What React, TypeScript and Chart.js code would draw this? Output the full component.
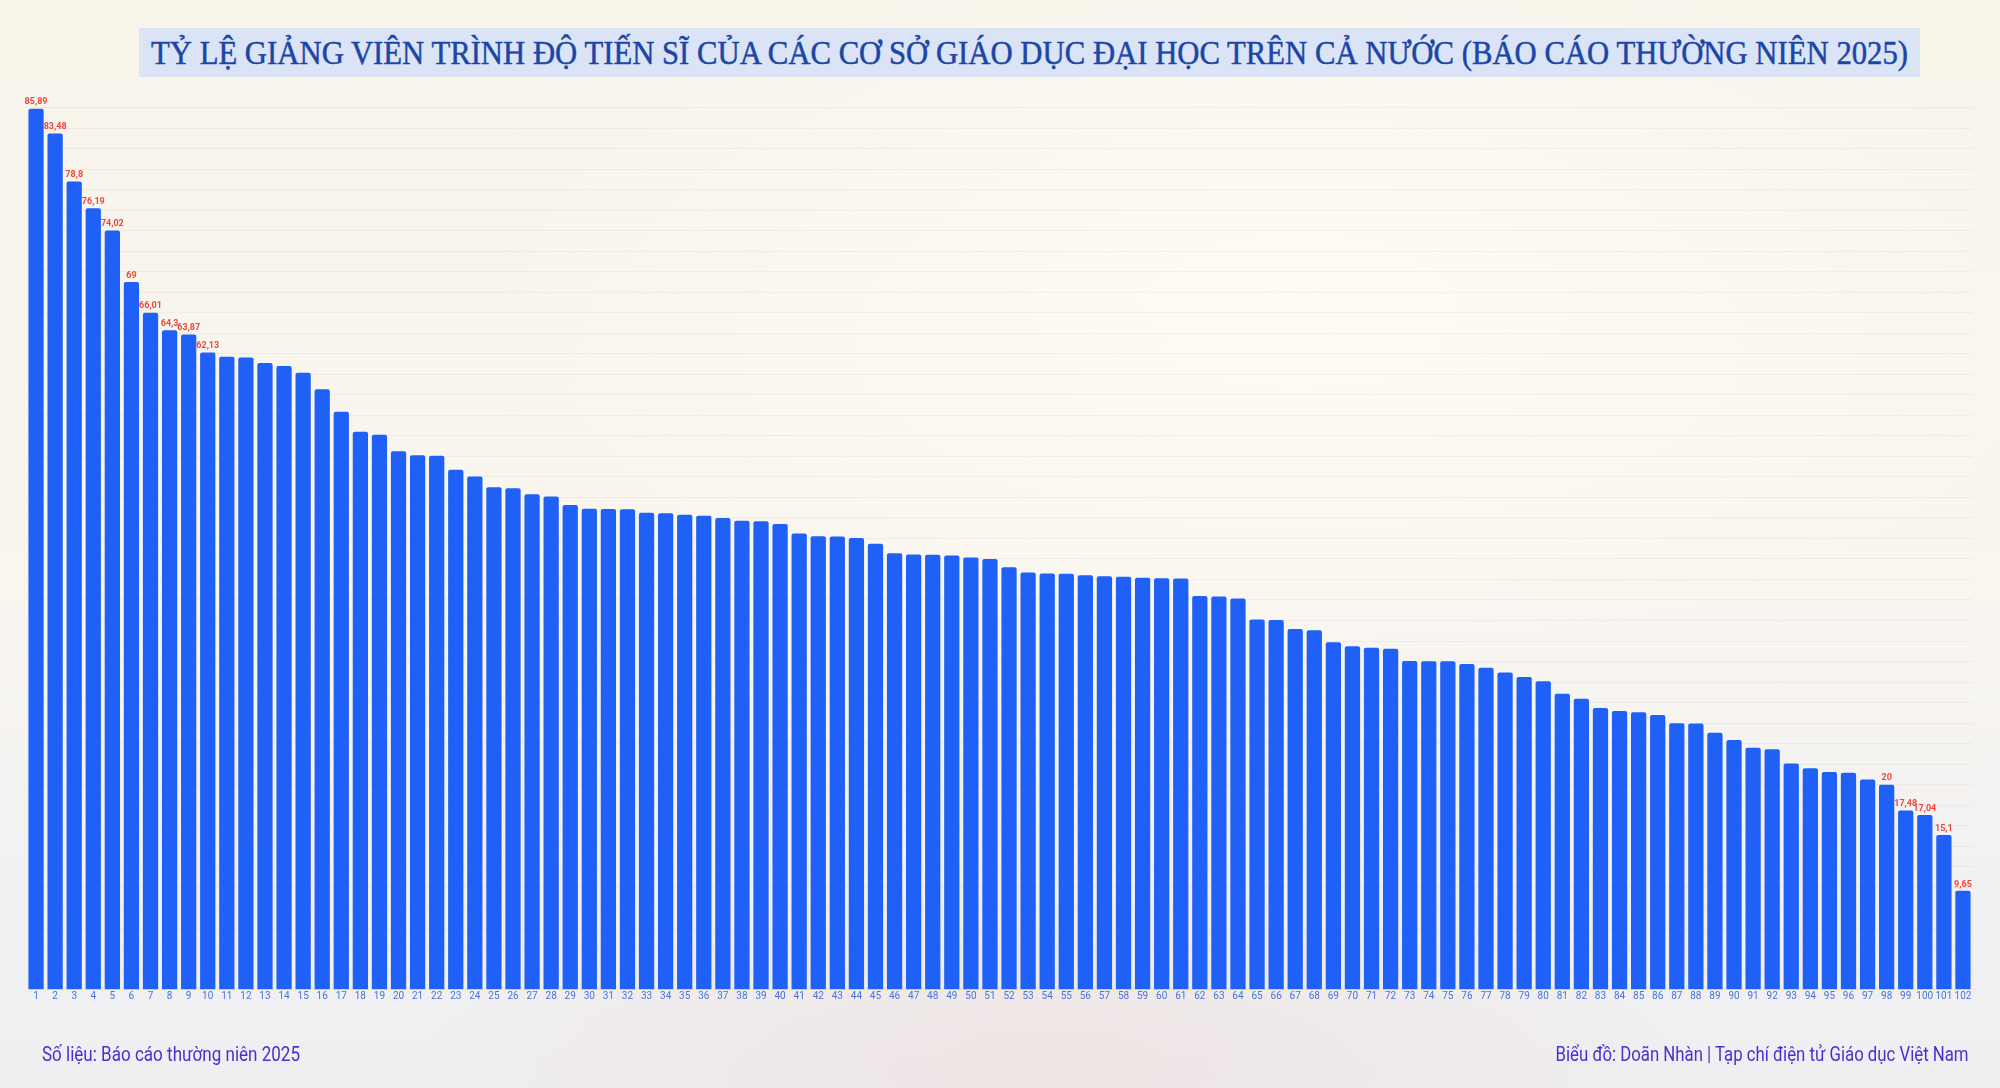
import React, { useEffect, useLayoutEffect, useRef } from "react";
import { Chart, registerables } from "chart.js";

Chart.register(...registerables);

// Tỷ lệ giảng viên tiến sĩ (%) của 102 cơ sở, xếp giảm dần
const categories = [
  "1", "2", "3", "4", "5", "6", "7", "8", "9", "10",
  "11", "12", "13", "14", "15", "16", "17", "18", "19", "20",
  "21", "22", "23", "24", "25", "26", "27", "28", "29", "30",
  "31", "32", "33", "34", "35", "36", "37", "38", "39", "40",
  "41", "42", "43", "44", "45", "46", "47", "48", "49", "50",
  "51", "52", "53", "54", "55", "56", "57", "58", "59", "60",
  "61", "62", "63", "64", "65", "66", "67", "68", "69", "70",
  "71", "72", "73", "74", "75", "76", "77", "78", "79", "80",
  "81", "82", "83", "84", "85", "86", "87", "88", "89", "90",
  "91", "92", "93", "94", "95", "96", "97", "98", "99", "100",
  "101", "102",
];

const ratios = [
  85.89, 83.48, 78.8, 76.19, 74.02, 69, 66.01, 64.3, 63.87, 62.13,
  61.7, 61.65, 61.1, 60.8, 60.15, 58.55, 56.35, 54.4, 54.1, 52.5,
  52.1, 52.05, 50.7, 50.05, 49.0, 48.9, 48.3, 48.1, 47.25, 46.9,
  46.88, 46.84, 46.5, 46.45, 46.3, 46.2, 46.0, 45.72, 45.68, 45.42,
  44.48, 44.22, 44.2, 44.05, 43.48, 42.56, 42.43, 42.4, 42.34, 42.14,
  42.0, 41.2, 40.68, 40.58, 40.55, 40.42, 40.32, 40.26, 40.16, 40.12,
  40.1, 38.4, 38.35, 38.15, 36.1, 36.04, 35.16, 35.06, 33.87, 33.5,
  33.35, 33.25, 32.05, 32.04, 32.02, 31.75, 31.4, 30.92, 30.49, 30.07,
  28.87, 28.38, 27.47, 27.18, 27.05, 26.79, 25.98, 25.95, 25.05, 24.35,
  23.6, 23.45, 22.05, 21.6, 21.22, 21.15, 20.5, 20, 17.48, 17.04,
  15.1, 9.65,
];

// chỉ ghi số cho 10 cơ sở đầu và 5 cơ sở cuối
const labelledBars = [0, 1, 2, 3, 4, 5, 6, 7, 8, 9, 97, 98, 99, 100, 101];

const TITLE =
  "TỶ LỆ GIẢNG VIÊN TRÌNH ĐỘ TIẾN SĨ CỦA CÁC CƠ SỞ GIÁO DỤC ĐẠI HỌC TRÊN CẢ NƯỚC (BÁO CÁO THƯỜNG NIÊN 2025)";
const SOURCE = "Số liệu: Báo cáo thường niên 2025";
const CREDIT = "Biểu đồ: Doãn Nhàn | Tạp chí điện tử Giáo dục Việt Nam";

const BAR_COLOR = "#1f60f6";
const LABEL_COLOR = "#f0463b";
const FOOT_COLOR = "#4b2fd2";

const valueLabels = {
  id: "valueLabels",
  afterDatasetsDraw(chart: any) {
    const ctx = chart.ctx;
    const meta = chart.getDatasetMeta(0);
    ctx.save();
    ctx.font = "bold 9px Roboto";
    ctx.fillStyle = LABEL_COLOR;
    ctx.textAlign = "center";
    ctx.textBaseline = "bottom";
    labelledBars.forEach((i) => {
      const bar = meta.data[i];
      if (!bar) return;
      const txt = String(ratios[i]).replace(".", ",");
      ctx.fillText(txt, bar.x, bar.y - 2);
    });
    ctx.restore();
  },
};

// co giãn chữ theo bề ngang cho khớp ảnh gốc
const FitText = ({
  text,
  width,
  origin,
  style,
}: {
  text: string;
  width: number;
  origin: string;
  style: React.CSSProperties;
}) => {
  const ref = useRef<HTMLSpanElement>(null);
  useLayoutEffect(() => {
    const el = ref.current;
    if (!el) return;
    el.style.transform = "none";
    const w = el.getBoundingClientRect().width;
    if (w > 0) el.style.transform = `scaleX(${width / w})`;
  }, [text, width]);
  return (
    <span
      ref={ref}
      style={{
        display: "inline-block",
        whiteSpace: "nowrap",
        transformOrigin: origin,
        ...style,
      }}
    >
      {text}
    </span>
  );
};

const App = () => {
  const chartRef = useRef<HTMLCanvasElement>(null);

  useEffect(() => {
    document.body.style.margin = "0";
    document.body.style.overflow = "hidden";
    if (!chartRef.current) return;
    const ctx = chartRef.current.getContext("2d");
    if (!ctx) return;

    const chart = new Chart(ctx, {
      type: "bar",
      data: {
        labels: categories,
        datasets: [
          {
            label: "Tỷ lệ tiến sĩ",
            data: ratios,
            backgroundColor: BAR_COLOR,
            borderWidth: 0,
            borderRadius: 2,
            barPercentage: 0.8,
            categoryPercentage: 1,
          },
        ],
      },
      options: {
        animation: false,
        responsive: false,
        maintainAspectRatio: false,
        layout: {
          padding: { left: 26.5, right: 27.5, top: 107.6, bottom: 84.2 },
        },
        plugins: {
          legend: { display: false },
          title: { display: false },
          tooltip: { enabled: false },
        },
        scales: {
          x: {
            grid: { display: false, drawTicks: false },
            border: { display: false },
            ticks: {
              autoSkip: false,
              maxRotation: 0,
              minRotation: 0,
              padding: 1,
              color: "#4a72dc",
              font: { family: "Roboto", size: 10 },
            },
          },
          y: {
            min: 0,
            max: 86,
            grid: {
              color: "rgba(120,105,80,0.065)",
              drawTicks: false,
              lineWidth: 1,
            },
            border: { display: false },
            ticks: { display: false, stepSize: 2 },
          },
        },
      },
      plugins: [valueLabels],
    });

    return () => {
      chart.destroy();
    };
  }, []);

  return (
    <div
      style={{
        position: "relative",
        width: 2000,
        height: 1088,
        overflow: "hidden",
        background:
          "radial-gradient(ellipse 900px 260px at 1050px 1060px, rgba(238,205,196,0.3), rgba(255,255,255,0) 70%), radial-gradient(ellipse 1100px 500px at 1300px 300px, rgba(255,253,247,0.8), rgba(255,255,255,0) 75%), linear-gradient(180deg, #f8f4ea 0%, #f9f6f0 55%, #f1f0f2 85%, #efeef1 100%)",
      }}
    >
      <div
        style={{
          position: "absolute",
          left: 139,
          top: 28,
          width: 1781,
          height: 49,
          background: "#dae4f6",
          display: "flex",
          justifyContent: "center",
          alignItems: "center",
          overflow: "hidden",
        }}
      >
        <FitText
          text={TITLE}
          width={1757}
          origin="center"
          style={{
            fontFamily: "'Liberation Serif', 'DejaVu Serif', serif",
            fontSize: 34,
            lineHeight: "49px",
            color: "#1c46a6",
            WebkitTextStroke: "0.5px #1c46a6",
          }}
        />
      </div>
      <canvas
        ref={chartRef}
        width={2000}
        height={1088}
        style={{ position: "absolute", left: 0, top: 0, width: 2000, height: 1088 }}
      ></canvas>
      <div style={{ position: "absolute", left: 42, top: 1044 }}>
        <FitText
          text={SOURCE}
          width={258}
          origin="left"
          style={{
            fontFamily: "Roboto, sans-serif",
            fontSize: 20,
            lineHeight: "20px",
            color: FOOT_COLOR,
          }}
        />
      </div>
      <div style={{ position: "absolute", right: 31, top: 1044, textAlign: "right" }}>
        <FitText
          text={CREDIT}
          width={413}
          origin="right"
          style={{
            fontFamily: "Roboto, sans-serif",
            fontSize: 20,
            lineHeight: "20px",
            color: FOOT_COLOR,
          }}
        />
      </div>
    </div>
  );
};

export default App;
